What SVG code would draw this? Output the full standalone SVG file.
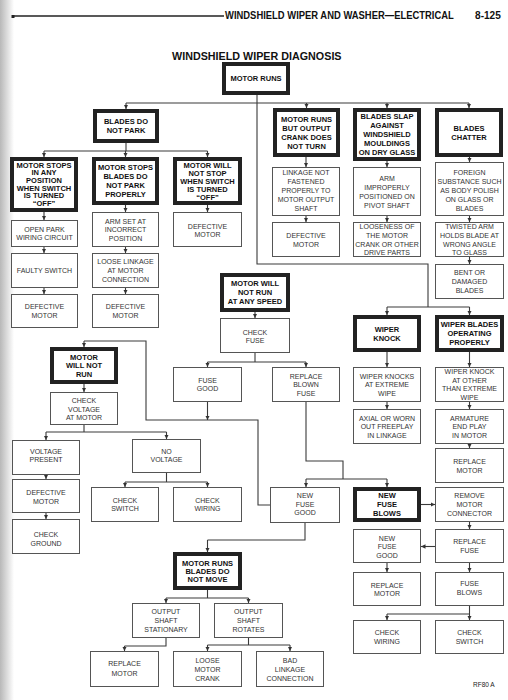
<svg xmlns="http://www.w3.org/2000/svg" width="508" height="700" viewBox="0 0 508 700">
<defs>
<linearGradient id="shade" x1="0" y1="0" x2="1" y2="0">
<stop offset="0" stop-color="#b8b8b8"/><stop offset="1" stop-color="#ffffff"/>
</linearGradient>
<marker id="ah" viewBox="0 0 8 8" refX="8" refY="4" markerWidth="4.5" markerHeight="4.5" markerUnits="userSpaceOnUse" orient="auto">
<path d="M0,0 L8,4 L0,8 z" fill="#333"/>
</marker>
</defs>
<style>
.tk rect{fill:#fff;stroke:#222;stroke-width:4}
.tn rect{fill:#fff;stroke:#555;stroke-width:1}
.tk text{font-family:"Liberation Sans",Arial,sans-serif;font-weight:bold;font-size:7.5px;fill:#111;text-anchor:middle}
.tn text{font-family:"Liberation Sans",Arial,sans-serif;font-size:7px;fill:#333;text-anchor:middle}
.hd{font-family:"Liberation Sans",Arial,sans-serif;font-weight:bold;fill:#111}
#connectors path{fill:none;stroke:#3a3a3a;stroke-width:1.1}
#connectors path.a{marker-end:url(#ah)}
</style>
<rect x="0" y="0" width="508" height="700" fill="#fff"/>
<rect x="0" y="0" width="14" height="700" fill="url(#shade)"/>

<g id="header">
<line x1="13" y1="16" x2="224" y2="16" stroke="#222" stroke-width="1.3"/>
<rect x="11.5" y="15" width="3" height="3" fill="#222"/>
<text class="hd" transform="translate(225,18.5) scale(0.82,1)" font-size="11.5">WINDSHIELD WIPER AND WASHER—ELECTRICAL</text>
<text class="hd" transform="translate(475,18.5) scale(0.88,1)" font-size="11.5">8-125</text>
<text class="hd" transform="translate(172,60) scale(0.935,1)" font-size="11.5">WINDSHIELD WIPER DIAGNOSIS</text>
</g>

<g id="connectors">
<path d="M126,103 H469"/>
<path d="M257,95 V264 H428 V307"/>
<path class="a" d="M126,103 V109"/>
<path class="a" d="M306.5,103 V108"/>
<path class="a" d="M387,103 V108"/>
<path class="a" d="M469,103 V108"/>
<path d="M126,143 V151 M44,151 H207.5"/>
<path class="a" d="M44,151 V157"/>
<path class="a" d="M125.5,151 V157"/>
<path class="a" d="M207.5,151 V157"/>
<path class="a" d="M44,212 V220"/>
<path class="a" d="M44,247 V253"/>
<path class="a" d="M44,288 V294"/>
<path class="a" d="M125.5,205 V212"/>
<path class="a" d="M125.5,247 V253"/>
<path class="a" d="M125.5,288 V294"/>
<path class="a" d="M207.5,205 V212"/>
<path class="a" d="M306,157 V167"/>
<path class="a" d="M306,216 V222"/>
<path class="a" d="M387,161 V167"/>
<path class="a" d="M387,216 V222"/>
<path class="a" d="M469.5,157 V162"/>
<path class="a" d="M469.5,216 V222"/>
<path class="a" d="M469.5,257 V264"/>
<path d="M387,307 H469.5"/>
<path class="a" d="M387,307 V315"/>
<path class="a" d="M469.5,307 V315"/>
<path class="a" d="M387,352 V367"/>
<path class="a" d="M469.5,352 V367"/>
<path class="a" d="M387,402 V409"/>
<path class="a" d="M469.5,402 V409"/>
<path class="a" d="M469.5,444 V448"/>
<path class="a" d="M421,504.5 H435"/>
<path class="a" d="M469.5,522 V529"/>
<path class="a" d="M435,546.5 H421"/>
<path class="a" d="M469.5,563 V572"/>
<path class="a" d="M387,563 V572"/>
<path d="M469.5,606 V614 M387,614 H469.5"/>
<path class="a" d="M387,614 V620"/>
<path class="a" d="M469.5,614 V620"/>
<path class="a" d="M255,312 V318"/>
<path d="M255,353 V362 M207.5,362 H306"/>
<path class="a" d="M207.5,362 V367"/>
<path class="a" d="M306,362 V367"/>
<path class="a" d="M207.5,402 V420"/>
<path d="M270,505 H258 V420 H146 V341 H84"/>
<path class="a" d="M84,341 V347"/>
<path d="M306,402 V461 H343 V479 M306,479 H387"/>
<path class="a" d="M306,479 V487"/>
<path class="a" d="M387,479 V487"/>
<path d="M305,523 V540 H207.5"/>
<path class="a" d="M207.5,540 V552"/>
<path d="M207.5,590 V598 M166,598 H248.5"/>
<path class="a" d="M166,598 V603"/>
<path class="a" d="M248.5,598 V603"/>
<path d="M166,638 V646 H124.5"/>
<path class="a" d="M124.5,646 V651"/>
<path d="M248.5,638 V645 M207.5,645 H290"/>
<path class="a" d="M207.5,645 V651"/>
<path class="a" d="M290,645 V651"/>
<path class="a" d="M84,384 V392"/>
<path d="M84,425 V432 M46,432 H166.5"/>
<path class="a" d="M46,432 V440"/>
<path class="a" d="M166.5,432 V439"/>
<path class="a" d="M46,475 V479"/>
<path class="a" d="M46,513 V519"/>
<path d="M166.5,473 V482 M125,482 H207.5"/>
<path class="a" d="M125,482 V487"/>
<path class="a" d="M207.5,482 V487"/>
</g>

<g id="n_motor_runs" class="tk"><rect x="224" y="64" width="64" height="29"/><text><tspan x="256" y="81.2">MOTOR RUNS</tspan></text></g>
<g id="n_blades_do_not_park" class="tk"><rect x="95" y="111" width="62" height="30"/><text><tspan x="126" y="124.2">BLADES DO</tspan><tspan x="126" y="133.2">NOT PARK</tspan></text></g>
<g id="n_runs_crank_no_turn" class="tk"><rect x="275" y="110" width="63" height="45"/><text><tspan x="306.5" y="121.7">MOTOR RUNS</tspan><tspan x="306.5" y="130.7">BUT OUTPUT</tspan><tspan x="306.5" y="139.7">CRANK DOES</tspan><tspan x="306.5" y="148.7">NOT TURN</tspan></text></g>
<g id="n_blades_slap" class="tk"><rect x="355" y="110" width="64" height="49"/><text><tspan x="387" y="119.2">BLADES SLAP</tspan><tspan x="387" y="128.2">AGAINST</tspan><tspan x="387" y="137.2">WINDSHIELD</tspan><tspan x="387" y="146.2">MOULDINGS</tspan><tspan x="387" y="155.2">ON DRY GLASS</tspan></text></g>
<g id="n_blades_chatter" class="tk"><rect x="437" y="110" width="64" height="45"/><text><tspan x="469" y="130.7">BLADES</tspan><tspan x="469" y="139.7">CHATTER</tspan></text></g>
<g id="n_stops_any_position" class="tk"><rect x="12" y="159" width="64" height="51"/><text><tspan x="44" y="167.8">MOTOR STOPS</tspan><tspan x="44" y="175.4">IN ANY</tspan><tspan x="44" y="183">POSITION</tspan><tspan x="44" y="190.6">WHEN SWITCH</tspan><tspan x="44" y="198.2">IS TURNED</tspan><tspan x="44" y="205.8">“OFF”</tspan></text></g>
<g id="n_stops_not_park" class="tk"><rect x="94" y="159" width="63" height="44"/><text><tspan x="125.5" y="169.7">MOTOR STOPS</tspan><tspan x="125.5" y="178.7">BLADES DO</tspan><tspan x="125.5" y="187.7">NOT PARK</tspan><tspan x="125.5" y="196.7">PROPERLY</tspan></text></g>
<g id="n_will_not_stop" class="tk"><rect x="175" y="159" width="65" height="44"/><text><tspan x="207.5" y="167.7">MOTOR WILL</tspan><tspan x="207.5" y="175.7">NOT STOP</tspan><tspan x="207.5" y="183.7">WHEN SWITCH</tspan><tspan x="207.5" y="191.7">IS TURNED</tspan><tspan x="207.5" y="199.7">“OFF”</tspan></text></g>
<g id="n_not_run_any_speed" class="tk"><rect x="222" y="275" width="66" height="35"/><text><tspan x="255" y="286.4">MOTOR WILL</tspan><tspan x="255" y="295.2">NOT RUN</tspan><tspan x="255" y="304">AT ANY SPEED</tspan></text></g>
<g id="n_wiper_knock" class="tk"><rect x="355" y="317" width="64" height="33"/><text><tspan x="387" y="331.7">WIPER</tspan><tspan x="387" y="340.7">KNOCK</tspan></text></g>
<g id="n_operating_properly" class="tk"><rect x="437" y="317" width="65" height="33"/><text><tspan x="469.5" y="327.2">WIPER BLADES</tspan><tspan x="469.5" y="336.2">OPERATING</tspan><tspan x="469.5" y="345.2">PROPERLY</tspan></text></g>
<g id="n_motor_will_not_run" class="tk"><rect x="52" y="349" width="64" height="33"/><text><tspan x="84" y="359.7">MOTOR</tspan><tspan x="84" y="368.2">WILL NOT</tspan><tspan x="84" y="376.7">RUN</tspan></text></g>
<g id="n_new_fuse_blows" class="tk"><rect x="355" y="489" width="64" height="31"/><text><tspan x="387" y="498.4">NEW</tspan><tspan x="387" y="507.2">FUSE</tspan><tspan x="387" y="516">BLOWS</tspan></text></g>
<g id="n_blades_not_move" class="tk"><rect x="175" y="554" width="65" height="34"/><text><tspan x="207.5" y="565.5">MOTOR RUNS</tspan><tspan x="207.5" y="573.7">BLADES DO</tspan><tspan x="207.5" y="581.9">NOT MOVE</tspan></text></g>

<g id="n_open_park" class="tn"><rect x="11.5" y="220.5" width="66" height="26"/><text><tspan x="44.5" y="231.7">OPEN PARK</tspan><tspan x="44.5" y="240.3">WIRING CIRCUIT</tspan></text></g>
<g id="n_faulty_switch" class="tn"><rect x="11.5" y="253.5" width="66" height="34"/><text><tspan x="44.5" y="273">FAULTY SWITCH</tspan></text></g>
<g id="n_defective_motor_1" class="tn"><rect x="11.5" y="294.5" width="66" height="33"/><text><tspan x="44.5" y="309.3">DEFECTIVE</tspan><tspan x="44.5" y="317.7">MOTOR</tspan></text></g>
<g id="n_arm_set" class="tn"><rect x="92.5" y="212.5" width="66" height="34"/><text><tspan x="125.5" y="223.5">ARM SET AT</tspan><tspan x="125.5" y="232">INCORRECT</tspan><tspan x="125.5" y="240.5">POSITION</tspan></text></g>
<g id="n_loose_linkage" class="tn"><rect x="92.5" y="253.5" width="66" height="34"/><text><tspan x="125.5" y="264.4">LOOSE LINKAGE</tspan><tspan x="125.5" y="273">AT MOTOR</tspan><tspan x="125.5" y="281.6">CONNECTION</tspan></text></g>
<g id="n_defective_motor_2" class="tn"><rect x="92.5" y="294.5" width="66" height="33"/><text><tspan x="125.5" y="309.3">DEFECTIVE</tspan><tspan x="125.5" y="317.7">MOTOR</tspan></text></g>
<g id="n_defective_motor_3" class="tn"><rect x="173.5" y="212.5" width="68" height="34"/><text><tspan x="207.5" y="228.8">DEFECTIVE</tspan><tspan x="207.5" y="237.2">MOTOR</tspan></text></g>
<g id="n_linkage_not_fastened" class="tn"><rect x="272.5" y="167.5" width="67" height="48"/><text><tspan x="306" y="175">LINKAGE NOT</tspan><tspan x="306" y="184">FASTENED</tspan><tspan x="306" y="193">PROPERLY TO</tspan><tspan x="306" y="202">MOTOR OUTPUT</tspan><tspan x="306" y="211">SHAFT</tspan></text></g>
<g id="n_defective_motor_4" class="tn"><rect x="272.5" y="222.5" width="67" height="34"/><text><tspan x="306" y="238.2">DEFECTIVE</tspan><tspan x="306" y="246.8">MOTOR</tspan></text></g>
<g id="n_arm_improperly" class="tn"><rect x="353.5" y="167.5" width="67" height="48"/><text><tspan x="387" y="180.8">ARM</tspan><tspan x="387" y="189.7">IMPROPERLY</tspan><tspan x="387" y="198.6">POSITIONED ON</tspan><tspan x="387" y="207.5">PIVOT SHAFT</tspan></text></g>
<g id="n_looseness" class="tn"><rect x="353.5" y="222.5" width="67" height="34"/><text><tspan x="387" y="229.2">LOOSENESS OF</tspan><tspan x="387" y="237.9">THE MOTOR</tspan><tspan x="387" y="246.6">CRANK OR OTHER</tspan><tspan x="387" y="255.3">DRIVE PARTS</tspan></text></g>
<g id="n_foreign_substance" class="tn"><rect x="435.5" y="162.5" width="68" height="53"/><text><tspan x="469.5" y="174.5">FOREIGN</tspan><tspan x="469.5" y="183.5">SUBSTANCE SUCH</tspan><tspan x="469.5" y="192.5">AS BODY POLISH</tspan><tspan x="469.5" y="201.5">ON GLASS OR</tspan><tspan x="469.5" y="210.5">BLADES</tspan></text></g>
<g id="n_twisted_arm" class="tn"><rect x="435.5" y="222.5" width="68" height="34"/><text><tspan x="469.5" y="229.2">TWISTED ARM</tspan><tspan x="469.5" y="237.9">HOLDS BLADE AT</tspan><tspan x="469.5" y="246.6">WRONG ANGLE</tspan><tspan x="469.5" y="255.3">TO GLASS</tspan></text></g>
<g id="n_bent_blades" class="tn"><rect x="435.5" y="264.5" width="68" height="34"/><text><tspan x="469.5" y="275.2">BENT OR</tspan><tspan x="469.5" y="284">DAMAGED</tspan><tspan x="469.5" y="292.8">BLADES</tspan></text></g>
<g id="n_check_fuse" class="tn"><rect x="220.5" y="318.5" width="69" height="34"/><text><tspan x="255" y="334.5">CHECK</tspan><tspan x="255" y="343">FUSE</tspan></text></g>
<g id="n_fuse_good" class="tn"><rect x="173.5" y="367.5" width="68" height="34"/><text><tspan x="207.5" y="382.8">FUSE</tspan><tspan x="207.5" y="391.2">GOOD</tspan></text></g>
<g id="n_replace_blown_fuse" class="tn"><rect x="272.5" y="367.5" width="67" height="34"/><text><tspan x="306" y="378.5">REPLACE</tspan><tspan x="306" y="387.2">BLOWN</tspan><tspan x="306" y="395.9">FUSE</tspan></text></g>
<g id="n_knocks_extreme" class="tn"><rect x="353.5" y="367.5" width="67" height="34"/><text><tspan x="387" y="378.5">WIPER KNOCKS</tspan><tspan x="387" y="387.2">AT EXTREME</tspan><tspan x="387" y="395.9">WIPE</tspan></text></g>
<g id="n_knock_other" class="tn"><rect x="435.5" y="367.5" width="68" height="34"/><text><tspan x="469.5" y="374.1">WIPER KNOCK</tspan><tspan x="469.5" y="382.7">AT OTHER</tspan><tspan x="469.5" y="391.3">THAN EXTREME</tspan><tspan x="469.5" y="399.9">WIPE</tspan></text></g>
<g id="n_axial_freeplay" class="tn"><rect x="353.5" y="409.5" width="67" height="34"/><text><tspan x="387" y="420.5">AXIAL OR WORN</tspan><tspan x="387" y="429">OUT FREEPLAY</tspan><tspan x="387" y="437.5">IN LINKAGE</tspan></text></g>
<g id="n_armature_end_play" class="tn"><rect x="435.5" y="409.5" width="68" height="34"/><text><tspan x="469.5" y="420.5">ARMATURE</tspan><tspan x="469.5" y="429">END PLAY</tspan><tspan x="469.5" y="437.5">IN MOTOR</tspan></text></g>
<g id="n_replace_motor_1" class="tn"><rect x="435.5" y="448.5" width="68" height="34"/><text><tspan x="469.5" y="464">REPLACE</tspan><tspan x="469.5" y="472.5">MOTOR</tspan></text></g>
<g id="n_remove_connector" class="tn"><rect x="435.5" y="487.5" width="68" height="34"/><text><tspan x="469.5" y="498.2">REMOVE</tspan><tspan x="469.5" y="506.8">MOTOR</tspan><tspan x="469.5" y="515.6">CONNECTOR</tspan></text></g>
<g id="n_check_voltage" class="tn"><rect x="50.5" y="392.5" width="67" height="32"/><text><tspan x="84" y="403.1">CHECK</tspan><tspan x="84" y="411.7">VOLTAGE</tspan><tspan x="84" y="420.3">AT MOTOR</tspan></text></g>
<g id="n_voltage_present" class="tn"><rect x="12.5" y="440.5" width="67" height="34"/><text><tspan x="46" y="453.5">VOLTAGE</tspan><tspan x="46" y="461.8">PRESENT</tspan></text></g>
<g id="n_no_voltage" class="tn"><rect x="132.5" y="439.5" width="68" height="33"/><text><tspan x="166.5" y="453.5">NO</tspan><tspan x="166.5" y="461.8">VOLTAGE</tspan></text></g>
<g id="n_defective_motor_5" class="tn"><rect x="12.5" y="479.5" width="67" height="33"/><text><tspan x="46" y="495.2">DEFECTIVE</tspan><tspan x="46" y="503.5">MOTOR</tspan></text></g>
<g id="n_check_ground" class="tn"><rect x="12.5" y="519.5" width="67" height="34"/><text><tspan x="46" y="536.8">CHECK</tspan><tspan x="46" y="545.6">GROUND</tspan></text></g>
<g id="n_check_switch_1" class="tn"><rect x="91.5" y="487.5" width="67" height="34"/><text><tspan x="125" y="502.5">CHECK</tspan><tspan x="125" y="510.8">SWITCH</tspan></text></g>
<g id="n_check_wiring_1" class="tn"><rect x="173.5" y="487.5" width="68" height="34"/><text><tspan x="207.5" y="502.5">CHECK</tspan><tspan x="207.5" y="510.8">WIRING</tspan></text></g>
<g id="n_new_fuse_good_1" class="tn"><rect x="270.5" y="487.5" width="69" height="35"/><text><tspan x="305" y="498.2">NEW</tspan><tspan x="305" y="506.6">FUSE</tspan><tspan x="305" y="515.2">GOOD</tspan></text></g>
<g id="n_new_fuse_good_2" class="tn"><rect x="353.5" y="529.5" width="67" height="33"/><text><tspan x="387" y="540.8">NEW</tspan><tspan x="387" y="549.3">FUSE</tspan><tspan x="387" y="558">GOOD</tspan></text></g>
<g id="n_replace_fuse" class="tn"><rect x="435.5" y="529.5" width="68" height="33"/><text><tspan x="469.5" y="544.2">REPLACE</tspan><tspan x="469.5" y="553">FUSE</tspan></text></g>
<g id="n_replace_motor_2" class="tn"><rect x="353.5" y="572.5" width="67" height="33"/><text><tspan x="387" y="587.5">REPLACE</tspan><tspan x="387" y="596.3">MOTOR</tspan></text></g>
<g id="n_fuse_blows" class="tn"><rect x="435.5" y="572.5" width="68" height="33"/><text><tspan x="469.5" y="585.8">FUSE</tspan><tspan x="469.5" y="594.8">BLOWS</tspan></text></g>
<g id="n_check_wiring_2" class="tn"><rect x="353.5" y="620.5" width="67" height="33"/><text><tspan x="387" y="635.2">CHECK</tspan><tspan x="387" y="644.2">WIRING</tspan></text></g>
<g id="n_check_switch_2" class="tn"><rect x="435.5" y="620.5" width="68" height="33"/><text><tspan x="469.5" y="635.2">CHECK</tspan><tspan x="469.5" y="644.2">SWITCH</tspan></text></g>
<g id="n_shaft_stationary" class="tn"><rect x="132.5" y="603.5" width="67" height="34"/><text><tspan x="166" y="614.2">OUTPUT</tspan><tspan x="166" y="623.1">SHAFT</tspan><tspan x="166" y="631.8">STATIONARY</tspan></text></g>
<g id="n_shaft_rotates" class="tn"><rect x="214.5" y="603.5" width="68" height="34"/><text><tspan x="248.5" y="614.2">OUTPUT</tspan><tspan x="248.5" y="623.1">SHAFT</tspan><tspan x="248.5" y="631.8">ROTATES</tspan></text></g>
<g id="n_replace_motor_3" class="tn"><rect x="90.5" y="651.5" width="68" height="35"/><text><tspan x="124.5" y="666">REPLACE</tspan><tspan x="124.5" y="675.5">MOTOR</tspan></text></g>
<g id="n_loose_crank" class="tn"><rect x="173.5" y="651.5" width="68" height="35"/><text><tspan x="207.5" y="662.5">LOOSE</tspan><tspan x="207.5" y="671.8">MOTOR</tspan><tspan x="207.5" y="680.8">CRANK</tspan></text></g>
<g id="n_bad_linkage" class="tn"><rect x="256.5" y="651.5" width="67" height="35"/><text><tspan x="290" y="662.5">BAD</tspan><tspan x="290" y="671.8">LINKAGE</tspan><tspan x="290" y="680.8">CONNECTION</tspan></text></g>

<text x="473" y="687" font-family="Liberation Sans, Arial, sans-serif" font-size="6.5" fill="#222">RF80 A</text>
</svg>
